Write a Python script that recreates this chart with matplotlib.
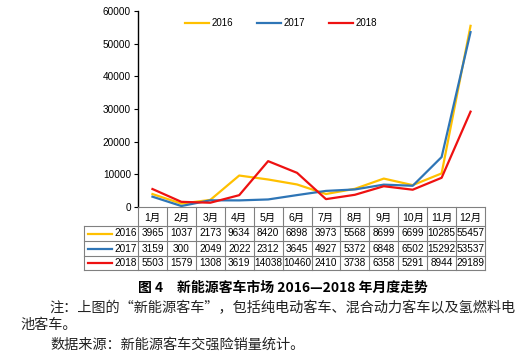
import matplotlib
matplotlib.use("Agg")
import matplotlib.pyplot as plt
from matplotlib.lines import Line2D

months = ["1月", "2月", "3月", "4月", "5月", "6月", "7月", "8月", "9月", "10月", "11月", "12月"]
years = ["2016", "2017", "2018"]
v2016 = [3965, 1037, 2173, 9634, 8420, 6898, 3973, 5568, 8699, 6699, 10285, 55457]
v2017 = [3159, 300, 2049, 2022, 2312, 3645, 4927, 5372, 6848, 6502, 15292, 53537]
v2018 = [5503, 1579, 1308, 3619, 14038, 10460, 2410, 3738, 6358, 5291, 8944, 29189]
series = [v2016, v2017, v2018]
colors = ["#FFC000", "#2E75B6", "#EE1111"]
yticks = [0, 10000, 20000, 30000, 40000, 50000, 60000]
title = "图 4　新能源客车市场 2016—2018 年月度走势"
notes = ["注：上图的“新能源客车”，包括纯电动客车、混合动力客车以及氢燃料电",
         "池客车。",
         "数据来源：新能源客车交强险销量统计。"]

W, H = 527, 357
fig = plt.figure(figsize=(W / 100, H / 100), dpi=100)
fam = ["Liberation Sans", "Noto Sans CJK SC"]
cjk = ["Noto Sans CJK SC", "Liberation Sans"]
nsz = 7.2

def fx(px):
    return px / W

def fy(py):
    return 1 - py / H

x0, x1, ytop, ybot = 138, 485, 11, 207
ax = fig.add_axes([fx(x0), fy(ybot), fx(x1) - fx(x0), fy(ytop) - fy(ybot)])
n = len(months)
xs = list(range(n))
for vals, c, yr in zip(series, colors, years):
    ax.plot(xs, vals, color=c, lw=1.6, label=yr, solid_joinstyle="round")
ax.set_xlim(-0.5, n - 0.5)
ax.set_ylim(0, 60000)
ax.set_yticks(yticks)
ax.set_yticklabels([str(t) for t in yticks], fontfamily=fam, fontsize=nsz)
ax.set_xticks([])
for s in ["top", "right"]:
    ax.spines[s].set_visible(False)
ax.spines["left"].set_linewidth(1.0)
ax.spines["bottom"].set_color("#808080")
ax.spines["bottom"].set_linewidth(0.8)
ax.tick_params(axis="y", length=3, width=0.8, pad=2)

leg = fig.legend(loc="center", bbox_to_anchor=(fx(281), fy(23)), ncol=3, frameon=False,
                 handlelength=2.5, handletextpad=0.3, columnspacing=2.4,
                 prop={"family": fam, "size": 7.0})

# table
gray = "#808080"
lw = 0.8
colw = (x1 - x0) / n
rows_y = [207, 226, 241, 256, 270]
xl = 84
def hline(xa, xb, y):
    fig.add_artist(Line2D([fx(xa), fx(xb)], [fy(y), fy(y)], color=gray, lw=lw))
def vline(x, ya, yb):
    fig.add_artist(Line2D([fx(x), fx(x)], [fy(ya), fy(yb)], color=gray, lw=lw))

for y in rows_y[1:]:
    hline(xl, x1, y)
for i in range(n + 1):
    vline(x0 + i * colw, rows_y[0], rows_y[-1])
vline(xl, rows_y[1], rows_y[-1])

for i, m in enumerate(months):
    fig.text(fx(x0 + (i + 0.5) * colw), fy((rows_y[0] + rows_y[1]) / 2 + 1), m,
             ha="center", va="center", fontfamily=fam, fontsize=nsz + 0.3)
for r, (vals, c, yr) in enumerate(zip(series, colors, years)):
    yc = (rows_y[r + 1] + rows_y[r + 2]) / 2
    fig.add_artist(Line2D([fx(88), fx(112)], [fy(yc), fy(yc)], color=c, lw=1.6))
    fig.text(fx(136.5), fy(yc), yr, ha="right", va="center", fontfamily=fam, fontsize=nsz)
    for i, v in enumerate(vals):
        fig.text(fx(x0 + (i + 0.5) * colw), fy(yc), str(v), ha="center", va="center",
                 fontfamily=fam, fontsize=nsz)

fig.text(fx(282.5), fy(288), title, ha="center", va="center", fontfamily=cjk,
         fontsize=10, fontweight="bold")
fig.text(fx(49), fy(308), notes[0], ha="left", va="center", fontfamily=cjk, fontsize=10.2, color="#222222")
fig.text(fx(20), fy(325), notes[1], ha="left", va="center", fontfamily=cjk, fontsize=10.2, color="#222222")
fig.text(fx(50), fy(345), notes[2], ha="left", va="center", fontfamily=cjk, fontsize=10.2, color="#222222")

fig.savefig("out.png", dpi=100)
